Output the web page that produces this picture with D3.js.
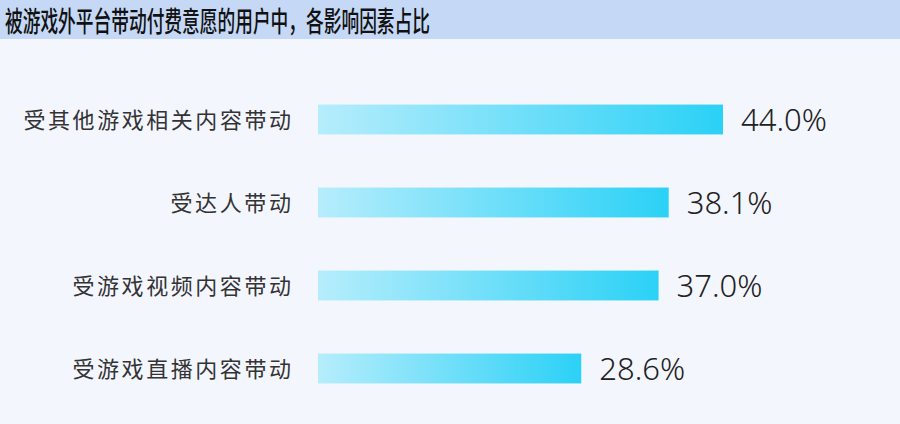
<!DOCTYPE html>
<html>
<head>
<meta charset="utf-8">
<script src="https://cdn.jsdelivr.net/npm/d3@7"></script>
<style>
  html, body { margin: 0; padding: 0; background: #f4f6fe; }
  svg { display: block; }
</style>
</head>
<body>
<div id="chart"></div>
<script>
// chart data
const TITLE = "被游戏外平台带动付费意愿的用户中，各影响因素占比";
const CATEGORIES = ["受其他游戏相关内容带动", "受达人带动", "受游戏视频内容带动", "受游戏直播内容带动"];
const VALUES = [44.0, 38.1, 37.0, 28.6];

let width = 900, height = 424;

let svg = d3.select("#chart").append("svg")
    .attr("width", width)
    .attr("height", height);

svg.append("rect").attr("width", width).attr("height", height).attr("fill", "#f4f6fe");

// title band
svg.append("rect").attr("width", width).attr("height", 39).attr("fill", "#c5d8f6");
svg.append("text")
    .attr("x", 5)
    .attr("y", 32)
    .attr("font-family", "'Noto Sans CJK SC', sans-serif")
    .attr("font-size", 28)
    .attr("font-weight", 500)
    .attr("textLength", 425)
    .attr("lengthAdjust", "spacingAndGlyphs")
    .attr("fill", "#111")
    .text(TITLE);

// gradient for bars
let grad = svg.append("defs").append("linearGradient")
    .attr("id", "barGrad")
    .attr("x1", "0%").attr("x2", "100%").attr("y1", "0%").attr("y2", "0%");
grad.append("stop").attr("offset", "0%").attr("stop-color", "#b6edfc");
grad.append("stop").attr("offset", "100%").attr("stop-color", "#2bd1f6");

let x = d3.scaleLinear().domain([0, 44]).range([318, 723]);
let y = d3.scaleBand().domain(CATEGORIES).range([78, 410]).paddingInner(0.64).paddingOuter(0.32);

let rows = svg.selectAll("g.row")
    .data(CATEGORIES.map((c, i) => ({ cat: c, val: VALUES[i] })))
    .enter().append("g").attr("class", "row");

rows.append("rect")
    .attr("x", x(0))
    .attr("y", d => y(d.cat))
    .attr("width", d => x(d.val) - x(0))
    .attr("height", y.bandwidth())
    .attr("fill", "url(#barGrad)");

// category labels, a little letter-spaced like the original
rows.append("text")
    .attr("x", 291)
    .attr("y", d => y(d.cat) + y.bandwidth() / 2 + 8)
    .attr("text-anchor", "end")
    .attr("font-family", "'Noto Sans CJK SC', sans-serif")
    .attr("font-size", 22)
    .attr("textLength", d => d.cat.length * 24.5 - 2)
    .attr("lengthAdjust", "spacing")
    .attr("fill", "#333")
    .text(d => d.cat);

rows.append("text")
    .attr("x", d => x(d.val) + 18)
    .attr("y", d => y(d.cat) + y.bandwidth() / 2 + 11)
    .attr("font-family", "'Noto Sans', sans-serif")
    .attr("font-size", 31)
    .attr("font-weight", 300)
    .attr("fill", "#222")
    .text(d => d.val.toFixed(1) + "%");
</script>
</body>
</html>
